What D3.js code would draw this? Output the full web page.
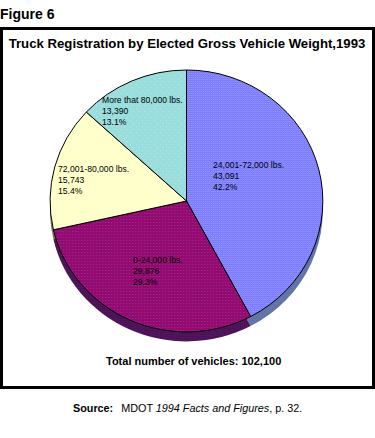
<!DOCTYPE html>
<html lang="en">
<head>
<meta charset="UTF-8"/>
<title>Figure 6</title>
<script src="https://d3js.org/d3.v7.min.js"></script>
<style>
    body { margin: 0; background-color: white; }
    svg { display: block; }
    text { font-family: "Liberation Sans", Arial, sans-serif; fill: black; }
</style>
</head>
<body>
<script>
// slices clockwise from 12 o'clock
var categories = ["24,001-72,000 lbs.", "0-24,000 lbs.", "72,001-80,000 lbs.", "More that 80,000 lbs."];
var vehicles = [43091, 29876, 15743, 13390];
var shares = ["42.2%", "29.3%", "15.4%", "13.1%"];

var w = 375;
var h = 438;
var cx = 186.5, cy = 201;
var rx = 136.5, ry = 131;
var depth = 9.5;

// label position of the first line of each slice
var labelPos = [[213, 168], [133, 263], [58, 172], [102, 103]];

var svg = d3.select("body").append("svg")
    .attr("width", w)
    .attr("height", h);

// dither patterns, the original is a 256 colour gif
// patternTransform undoes the ellipse stretch so the cells stay one pixel
var defs = svg.append("defs");
function dither(id, size, base, dot, cells) {
    var p = defs.append("pattern")
        .attr("id", id)
        .attr("width", size)
        .attr("height", size)
        .attr("patternUnits", "userSpaceOnUse")
        .attr("patternTransform", "scale(" + (1 / rx) + "," + (1 / ry) + ")");
    p.append("rect").attr("width", size).attr("height", size).attr("fill", base).attr("shape-rendering", "crispEdges");
    cells.forEach(function(c) {
        p.append("rect").attr("x", c[0]).attr("y", c[1]).attr("width", 1).attr("height", 1)
            .attr("fill", dot).attr("shape-rendering", "crispEdges");
    });
}
dither("d0", 2, "#6f6fff", "#9494ff", [[0, 0], [1, 1]]);
dither("d1", 3, "#930a72", "#a8508f", [[0, 0]]);
dither("d3", 6, "#99dddd", "#c4ecec", [[0, 0], [3, 3]]);
dither("s0", 2, "#4f7f7f", "#6f6fbf", [[0, 0], [1, 1]]);
dither("s1", 2, "#660033", "#3f1f6f", [[0, 0], [1, 1]]);
dither("s2", 2, "#8f8f6f", "#6f6f4f", [[0, 0], [1, 1]]);
dither("s3", 2, "#5f8f8f", "#4f7f7f", [[0, 0], [1, 1]]);

var topFill = ["url(#d0)", "url(#d1)", "#ffffcc", "url(#d3)"];
var sideFill = ["url(#s0)", "url(#s1)", "url(#s2)", "url(#s3)"];

// frame
svg.append("rect")
    .attr("x", 1.5).attr("y", 28.5)
    .attr("width", 372).attr("height", 359)
    .attr("fill", "white").attr("stroke", "black").attr("stroke-width", 3);

svg.append("text").attr("x", 0).attr("y", 19)
    .style("font-size", "14px").style("font-weight", "bold").text("Figure 6");

svg.append("text").attr("x", 187).attr("y", 48)
    .attr("text-anchor", "middle")
    .style("font-size", "13.2px").style("font-weight", "bold")
    .text("Truck Registration by Elected Gross Vehicle Weight,1993");

var pie = d3.pie().sort(null)(vehicles);

// unit arc, stretched to the ellipse by the group transform
var arc = d3.arc().innerRadius(0).outerRadius(1);

// side wall: same slices pushed down, lower half only shows
var side = svg.append("g")
    .attr("transform", "translate(" + cx + "," + (cy + depth) + ") scale(" + rx + "," + ry + ")");
side.selectAll("path")
    .data(pie)
    .enter()
    .append("path")
    .attr("d", arc)
    .attr("fill", function(d, i) { return sideFill[i]; })
    .attr("stroke", "none");

var top_ = svg.append("g")
    .attr("transform", "translate(" + cx + "," + cy + ") scale(" + rx + "," + ry + ")");
top_.selectAll("path")
    .data(pie)
    .enter()
    .append("path")
    .attr("d", arc)
    .attr("fill", function(d, i) { return topFill[i]; })
    .attr("stroke", "black")
    .attr("stroke-width", 1)
    .attr("vector-effect", "non-scaling-stroke");

// slice labels
var fmt = d3.format(",");
categories.forEach(function(c, i) {
    var lines = [c, fmt(vehicles[i]), shares[i]];
    svg.selectAll(null)
        .data(lines)
        .enter()
        .append("text")
        .attr("x", labelPos[i][0])
        .attr("y", function(d, j) { return labelPos[i][1] + j * 11; })
        .style("font-size", "8.6px")
        .text(function(d) { return d; });
});

svg.append("text").attr("x", 106).attr("y", 365)
    .style("font-size", "11px").style("font-weight", "bold")
    .text("Total number of vehicles: 102,100");

var src = svg.append("text").attr("x", 73).attr("y", 412).style("font-size", "10.8px");
src.append("tspan").style("font-weight", "bold").text("Source:");
src.append("tspan").attr("dx", 8).text("MDOT ");
src.append("tspan").style("font-style", "italic").text("1994 Facts and Figures");
src.append("tspan").text(", p. 32.");
</script>
</body>
</html>
